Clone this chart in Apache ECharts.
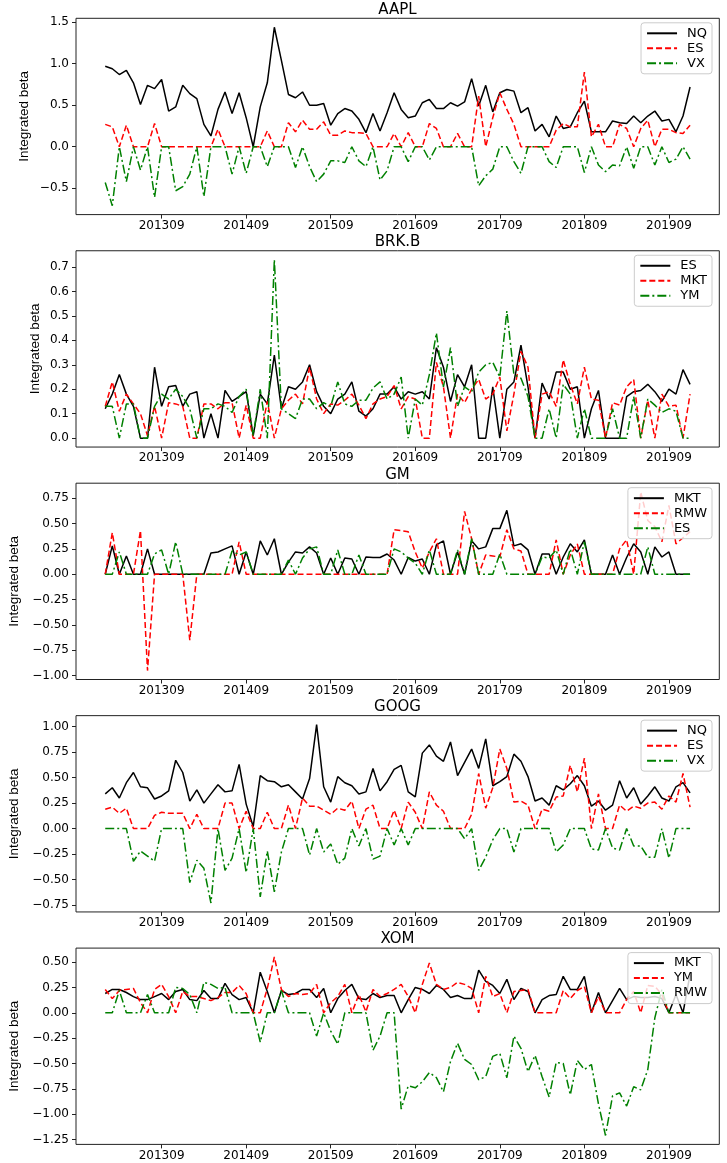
<!DOCTYPE html>
<html>
<head>
<meta charset="utf-8">
<script src="https://cdn.jsdelivr.net/npm/echarts@6/dist/echarts.min.js"></script>
<style>
html, body { margin: 0; padding: 0; background: #fff; }
#chart { width: 727px; height: 1163px; }
</style>
</head>
<body>
<div id="chart"></div>
<script>
// monthly samples, 201301 .. 201912
const months = [];
for (let y = 2013; y <= 2019; y++) {
    for (let m = 1; m <= 12; m++) months.push(String(y) + String(m).padStart(2, '0'));
}
const xTickLabels = ['201309', '201409', '201509', '201609', '201709', '201809', '201909'];

// AAPL
const aaplNames = ['NQ', 'ES', 'VX'];
const aaplNQ = [0.97,0.94,0.87,0.92,0.77,0.51,0.74,0.70,0.81,0.43,0.48,0.74,0.64,0.58,0.27,0.13,0.45,0.66,0.40,0.65,
    0.35,0.0,0.48,0.77,1.44,1.04,0.63,0.59,0.66,0.50,0.50,0.52,0.26,0.40,0.46,0.43,0.33,0.17,0.40,0.19,
    0.41,0.65,0.45,0.35,0.37,0.53,0.57,0.46,0.46,0.53,0.49,0.54,0.82,0.49,0.74,0.42,0.65,0.69,0.67,0.41,
    0.47,0.19,0.27,0.12,0.37,0.22,0.24,0.41,0.55,0.18,0.18,0.18,0.31,0.29,0.28,0.37,0.29,0.37,0.43,0.31,
    0.33,0.18,0.37,0.72];
const aaplES = [0.27,0.24,0,0.26,0,0,0,0.28,0,0,0,0,0,0,0,0,0.21,0,0,0,
    0,0,0,0.19,0,0,0.29,0.18,0.32,0.21,0.21,0.30,0.14,0.14,0.19,0.17,0.17,0.16,0,0,
    0,0.16,0,0.17,0,0,0.28,0.22,0,0,0.16,0,0,0.61,0,0.35,0.65,0.45,0.27,0,
    0,0,0,0,0.20,0.28,0.24,0.24,0.90,0.12,0.27,0,0,0.27,0.22,0,0.22,0.32,0,0.21,
    0.21,0.17,0.16,0.26];
const aaplVX = [-0.43,-0.71,0,-0.42,0,-0.28,0,-0.61,0,0,-0.53,-0.48,-0.33,0,-0.60,0,0,0,-0.33,0,
    -0.32,0,0,-0.24,0,0,0,-0.25,0,-0.24,-0.42,-0.33,-0.17,-0.17,-0.19,0,-0.17,-0.24,0,-0.40,
    -0.29,0,0,-0.18,0,0,-0.16,0,0,0,0,0,0,-0.47,-0.35,-0.27,0,0,-0.18,-0.32,
    0,0,0,-0.18,-0.25,0,0,0,-0.31,0,-0.22,-0.30,-0.22,-0.23,0,-0.26,0,0,-0.22,0,
    -0.19,-0.15,0,-0.15];
const aaplYTicks = ['\u22120.5', '0.0', '0.5', '1.0', '1.5'];

// BRK.B
const brkNames = ['ES', 'MKT', 'YM'];
const brkES = [0.12,0.18,0.26,0.18,0.13,0,0,0.29,0.13,0.21,0.215,0.13,0.18,0.19,0,0.10,0,0.195,0.15,0.17,
    0.19,0.01,0.18,0.14,0.34,0.12,0.21,0.20,0.23,0.30,0.19,0.13,0.10,0.16,0.18,0.23,0.11,0.09,0.12,0.18,
    0.18,0.21,0.16,0.19,0.18,0.19,0.16,0.37,0.29,0.15,0.26,0.21,0.30,0,0,0.21,0,0.20,0.23,0.38,
    0.21,0,0.225,0.16,0.27,0.27,0.20,0.21,0,0.12,0.195,0,0,0,0.17,0.19,0.195,0.22,0.19,0.15,
    0.20,0.18,0.28,0.22];
const brkMKT = [0.13,0.23,0.11,0.18,0.14,0.10,0.01,0.13,0,0.145,0.14,0.13,0,0,0.14,0.14,0.12,0.145,0.145,0,
    0.135,0,0,0.15,0,0.12,0.155,0.18,0.14,0.29,0.16,0.10,0.14,0.135,0.155,0.18,0.135,0.08,0.14,0.16,
    0.17,0.215,0.12,0.17,0.16,0,0,0.31,0.21,0,0.18,0.145,0.20,0.24,0.16,0.18,0.25,0.03,0.18,0.355,
    0.29,0,0.18,0.19,0.13,0.32,0.22,0.14,0.29,0.16,0.155,0,0.145,0.135,0.21,0.24,0,0.155,0,0.18,
    0.13,0.135,0,0.18];
const brkYM = [0.13,0.13,0,0.14,0.14,0,0,0.13,0.18,0.16,0.20,0.17,0.12,0,0.12,0.12,0.14,0.13,0.105,0.17,
    0.20,0.01,0.20,0,0.73,0.12,0.10,0.08,0.16,0.16,0.12,0.145,0.13,0.23,0.14,0.13,0.155,0.155,0.205,0.23,
    0.16,0.18,0.25,0,0.16,0.135,0.26,0.43,0.21,0.37,0.13,0.21,0.19,0.27,0.30,0.31,0.25,0.52,0.26,0.245,
    0.17,0,0,0.12,0,0.22,0.18,0,0.12,0,0,0,0.12,0,0,0.17,0,0.16,0.135,0.105,
    0.12,0.11,0,0];
const brkYTicks = ['0.0', '0.1', '0.2', '0.3', '0.4', '0.5', '0.6', '0.7'];

// GM
const gmNames = ['MKT', 'RMW', 'ES'];
const gmMKT = [0,0.28,0,0.18,0,0,0.25,0,0,0,0,0,0,0,0,0.21,0.22,0.25,0.28,0,
    0.22,0,0.33,0.19,0.35,0,0.12,0.22,0.21,0.27,0.21,0,0.16,0,0.16,0.15,0,0.17,0.165,0.165,
    0.20,0.14,0,0.165,0.13,0.15,0,0.29,0.33,0,0.22,0,0.33,0.25,0.27,0.45,0.45,0.63,0.28,0.30,
    0.24,0,0.20,0.20,0,0.17,0.30,0.22,0.34,0,0,0,0.19,0,0.165,0.30,0.22,0,0.27,0.17,
    0.22,0,0,0];
const gmRMW = [0,0.41,0,0,0,0.43,-0.95,0,0,0,0,0,-0.65,0,0,0,0,0,0,0.32,
    0,0,0,0,0,0,0,0,0,0,0,0,0,0,0,0,0,0,0,0,
    0,0.44,0.43,0.42,0.22,0.06,0.22,0.35,0,0,0,0.62,0.35,0,0.19,0.18,0.17,0.44,0.25,0.23,
    0,0,0,0,0.34,0,0.19,0.30,0,0,0,0,0,0.25,0.34,0,0.81,0.53,0.47,0.32,
    0.68,0.30,0.36,0.42];
const gmES = [0,0,0.22,0,0,0,0,0.20,0.24,0,0.32,0,0,0,0,0,0,0,0.23,0.19,
    0.22,0,0,0,0,0,0.14,0,0.16,0.25,0.27,0,0,0.24,0,0,0.19,0,0,0,
    0,0.25,0.22,0.16,0.11,0,0.24,0,0,0,0.24,0,0.35,0,0,0,0.20,0,0,0,
    0,0,0.17,0.16,0.24,0,0.25,0,0.32,0,0,0,0,0,0,0,0,0.27,0,0,
    0,0,0,0];
const gmYTicks = ['\u22121.00', '\u22120.75', '\u22120.50', '\u22120.25', '0.00', '0.25', '0.50', '0.75'];

// GOOG
const googNames = ['NQ', 'ES', 'VX'];
const googNQ = [0.34,0.40,0.30,0.45,0.55,0.41,0.40,0.29,0.32,0.37,0.67,0.55,0.27,0.38,0.25,0.34,0.43,0.36,0.37,0.63,
    0.24,0.02,0.52,0.47,0.46,0.41,0.43,0.36,0.29,0.49,1.02,0.41,0.26,0.51,0.45,0.42,0.34,0.36,0.59,0.37,
    0.46,0.58,0.62,0.36,0.31,0.74,0.82,0.71,0.66,0.85,0.52,0.65,0.78,0.59,0.88,0.42,0.46,0.51,0.73,0.66,
    0.51,0.27,0.30,0.23,0.42,0.38,0.44,0.52,0.42,0.22,0.27,0.18,0.23,0.47,0.30,0.40,0.24,0.32,0.41,0.30,
    0.27,0.41,0.45,0.35];
const googES = [0.19,0.21,0.15,0.20,0,0,0,0.13,0.16,0.15,0.15,0.15,0,0.14,0,0,0,0.25,0.25,0,
    0.17,0,0,0.16,0,0,0.23,0,0.30,0.22,0.22,0.18,0.14,0.20,0.18,0.27,0,0.19,0.23,0,
    0,0.18,0,0.26,0.16,0,0.36,0.23,0.17,0,0,0,0.14,0.54,0.20,0.40,0.78,0.59,0.26,0.27,
    0.23,0,0.19,0.17,0.31,0.32,0.62,0.36,0.69,0,0.34,0,0,0.23,0.17,0.22,0.20,0.25,0.26,0.19,
    0.32,0.26,0.54,0.21];
const googVX = [0,0,0,0,-0.32,-0.22,-0.27,-0.32,0,0,0,0,-0.53,-0.31,-0.39,-0.73,0,-0.41,-0.29,0,
    -0.43,0,-0.67,-0.22,-0.62,-0.23,0,0,0,-0.26,0,-0.23,-0.15,-0.35,-0.29,0,-0.17,0,-0.30,-0.27,
    0,-0.16,0,-0.16,0,0,0,0,0,0,0,-0.10,0,-0.41,-0.28,-0.11,0,0,-0.23,0,
    0,0,0,0,-0.23,-0.16,0,0,0,-0.20,-0.21,0,-0.19,-0.21,0,-0.17,-0.17,-0.28,-0.28,0,
    -0.29,0,0,0];
const googYTicks = ['\u22120.75', '\u22120.50', '\u22120.25', '0.00', '0.25', '0.50', '0.75', '1.00'];

// XOM
const xomNames = ['MKT', 'YM', 'RMW'];
const xomMKT = [0.19,0.23,0.23,0.20,0.16,0.13,0.13,0.16,0.19,0.13,0.21,0.23,0.13,0.12,0.22,0.14,0.14,0.29,0.18,0.13,
    0.15,0,0.40,0.21,0,0.22,0.18,0.19,0.23,0.23,0.15,0.24,0,0.14,0.22,0.28,0.14,0.13,0.19,0.15,
    0.17,0.17,0,0.13,0.25,0.23,0.19,0.27,0.23,0.15,0.17,0.14,0.14,0.42,0.31,0.27,0.19,0.33,0.13,0.24,
    0.21,0,0.13,0.17,0.18,0.36,0.23,0.23,0.36,0,0.20,0,0.12,0.24,0.13,0.16,0.15,0.15,0.16,0.14,
    0,0.18,0,0.38];
const xomYM = [0.23,0.14,0.22,0.23,0.24,0.10,0,0.23,0.28,0.16,0,0.21,0.16,0.16,0.14,0.12,0.15,0.20,0.20,0.27,
    0.19,0,0,0.24,0.55,0.23,0.16,0.19,0.18,0.19,0.28,0,0.10,0.16,0.28,0,0.18,0.01,0.23,0.16,
    0.19,0.23,0.28,0.16,0,0.28,0.49,0.28,0.23,0.25,0.30,0.28,0.24,0,0.36,0.16,0.19,0,0.21,0.22,
    0.23,0,0,0,0,0.22,0.14,0.22,0.26,0,0.16,0,0,0,0.13,0.21,0,0.27,0.26,0.18,
    0,0,0,0];
const xomRMW = [0,0,0.22,0,0,0,0.18,0,0,0,0.25,0.24,0.18,0,0.30,0.28,0.24,0.25,0,0,
    0,0,-0.29,0,0,0.22,0,0,0,0,-0.23,0,-0.18,-0.31,0,0,0,0,-0.37,-0.23,
    0,0,-0.95,-0.72,-0.74,-0.68,-0.59,-0.64,-0.78,-0.48,-0.30,-0.46,-0.51,-0.66,-0.63,-0.43,-0.40,-0.64,-0.23,-0.35,
    -0.58,-0.42,-0.63,-0.83,-0.49,-0.50,-0.81,-0.47,-0.56,-0.51,-0.90,-1.21,-0.82,-0.79,-0.92,-0.73,-0.76,-0.56,-0.05,0.23,
    0,0,0,0];
const xomYTicks = ['\u22121.25', '\u22121.00', '\u22120.75', '\u22120.50', '\u22120.25', '0.00', '0.25', '0.50'];

const panels = [
    { title: 'AAPL', names: aaplNames, values: [aaplNQ, aaplES, aaplVX], ticks: aaplYTicks, nameGap: 45 },
    { title: 'BRK.B', names: brkNames, values: [brkES, brkMKT, brkYM], ticks: brkYTicks, nameGap: 34 },
    { title: 'GM', names: gmNames, values: [gmMKT, gmRMW, gmES], ticks: gmYTicks, nameGap: 55 },
    { title: 'GOOG', names: googNames, values: [googNQ, googES, googVX], ticks: googYTicks, nameGap: 55 },
    { title: 'XOM', names: xomNames, values: [xomMKT, xomYM, xomRMW], ticks: xomYTicks, nameGap: 55 }
];

const lineStyles = [
    { color: '#000000', type: 'solid' },
    { color: '#ff0000', type: [6, 3] },
    { color: '#008000', type: [9, 3, 2, 3] }
];

const font = 'DejaVu Sans';
const xTickPos = xTickLabels.map(l => months.indexOf(l));
const n = months.length;
const xPad = (n - 1) * 0.05;

const option = {
    animation: false,
    backgroundColor: '#ffffff',
    title: [], legend: [], grid: [], xAxis: [], yAxis: [], series: []
};

panels.forEach((p, k) => {
    const top = 18.3 + 232.45 * k;
    const height = 196.3;
    const all = [].concat(...p.values);
    const lo = Math.min(...all), hi = Math.max(...all);
    const pad = (hi - lo) * 0.05;
    const tickVals = p.ticks.map(t => Number(t.replace('\u2212', '-')));

    option.title.push({
        text: p.title, left: 397.5, textAlign: 'center', top: top - 16, padding: 0,
        textStyle: { fontFamily: font, fontSize: 15, fontWeight: 'normal', color: '#000' }
    });
    option.grid.push({
        left: 76, right: 7.7, top: top, height: height, show: true,
        borderColor: '#222', borderWidth: 1, backgroundColor: 'transparent', outerBoundsMode: 'none'
    });
    option.xAxis.push({
        type: 'value', gridIndex: k, min: -xPad, max: n - 1 + xPad, position: 'bottom',
        splitLine: { show: false }, axisLine: { show: false, onZero: false },
        axisTick: { show: true, length: 4, lineStyle: { color: '#222' }, customValues: xTickPos },
        axisLabel: {
            customValues: xTickPos, formatter: v => months[Math.round(v)],
            fontFamily: font, fontSize: 12, color: '#000', margin: 5
        }
    });
    option.yAxis.push({
        type: 'value', gridIndex: k, min: lo - pad, max: hi + pad, position: 'left',
        name: 'Integrated beta', nameLocation: 'middle', nameGap: p.nameGap, nameRotate: 90,
        nameMoveOverlap: false,
        nameTextStyle: { fontFamily: 'Liberation Sans', fontSize: 13.5, color: '#000' },
        splitLine: { show: false }, axisLine: { show: false, onZero: false },
        axisTick: { show: true, length: 4, lineStyle: { color: '#222' }, customValues: tickVals },
        axisLabel: {
            customValues: tickVals,
            formatter: v => p.ticks[tickVals.findIndex(t => Math.abs(t - v) < 1e-9)],
            fontFamily: font, fontSize: 12, color: '#000', margin: 7
        }
    });
    const keys = p.names.map(nm => p.title + '|' + nm);
    option.legend.push({
        data: keys, formatter: s => s.split('|')[1],
        orient: 'vertical', right: 15, top: top + 4.5,
        padding: [4, 5, 4, 5], itemGap: 2, itemWidth: 30, itemHeight: 10,
        backgroundColor: 'rgba(255,255,255,0.8)', borderColor: '#cccccc', borderWidth: 1, borderRadius: 3,
        selectedMode: false,
        itemStyle: { color: 'rgba(0,0,0,0)', borderColor: 'rgba(0,0,0,0)', borderWidth: 0 },
        textStyle: { fontFamily: font, fontSize: 13, color: '#000', lineHeight: 12.5, padding: [0, 0, 0, 5] }
    });
    p.values.forEach((vals, j) => {
        option.series.push({
            type: 'line', name: keys[j], xAxisIndex: k, yAxisIndex: k,
            symbol: 'none', showSymbol: false,
            data: vals.map((v, i) => [i, v]),
            lineStyle: { color: lineStyles[j].color, width: 1.5, type: lineStyles[j].type },
            itemStyle: { color: lineStyles[j].color },
            emphasis: { disabled: true }
        });
    });
});

const myChart = echarts.init(document.getElementById('chart'));
myChart.setOption(option);
</script>
</body>
</html>
